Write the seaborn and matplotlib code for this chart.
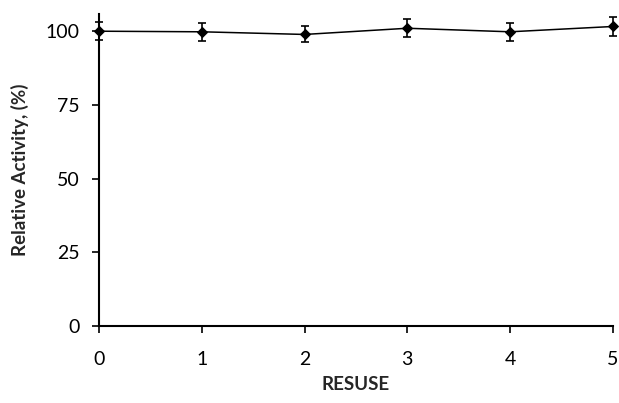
import matplotlib
matplotlib.use("Agg")
import matplotlib.pyplot as plt
import seaborn as sns
import pandas as pd

reuse = [0, 1, 2, 3, 4, 5]
activity = [100.0, 99.8, 98.9, 101.0, 99.8, 101.6]
error = [3.0, 3.0, 2.7, 3.0, 3.0, 3.2]
y_ticks = [0, 25, 50, 75, 100]

sns.set_theme(style="ticks")
plt.rcParams['font.family'] = ['Lato', 'DejaVu Sans']

df = pd.DataFrame({"reuse": reuse, "activity": activity})

fig = plt.figure(figsize=(6.19, 4.03), dpi=100)
ax = fig.add_axes([0.16, 0.191, 0.83, 0.774])
sns.lineplot(data=df, x="reuse", y="activity", ax=ax, color="black", lw=1.1,
             marker="D", markersize=5.5, markeredgecolor="black", clip_on=False)
ax.errorbar(reuse, activity, yerr=error, fmt="none", ecolor="black",
            elinewidth=1.2, capsize=3, capthick=1.2, clip_on=False)

ax.set_xlim(0, 5)
ax.set_ylim(0, 105.8)
ax.set_yticks(y_ticks)
ax.set_xticks(reuse)
ax.tick_params(axis="both", direction="out", length=5, width=1.2, labelsize=14, colors="black")
ax.tick_params(axis="y", pad=9)
ax.tick_params(axis="x", pad=13)
for s in ["top", "right"]:
    ax.spines[s].set_visible(False)
for s in ["left", "bottom"]:
    ax.spines[s].set_linewidth(1.5)
    ax.spines[s].set_color("black")
ax.set_xlabel("RESUSE", fontsize=13.5, fontweight="bold", labelpad=6)
ax.set_ylabel("Relative Activity, (%)", fontsize=13.5, fontweight="bold", labelpad=12)

fig.savefig("out.png", dpi=100)
